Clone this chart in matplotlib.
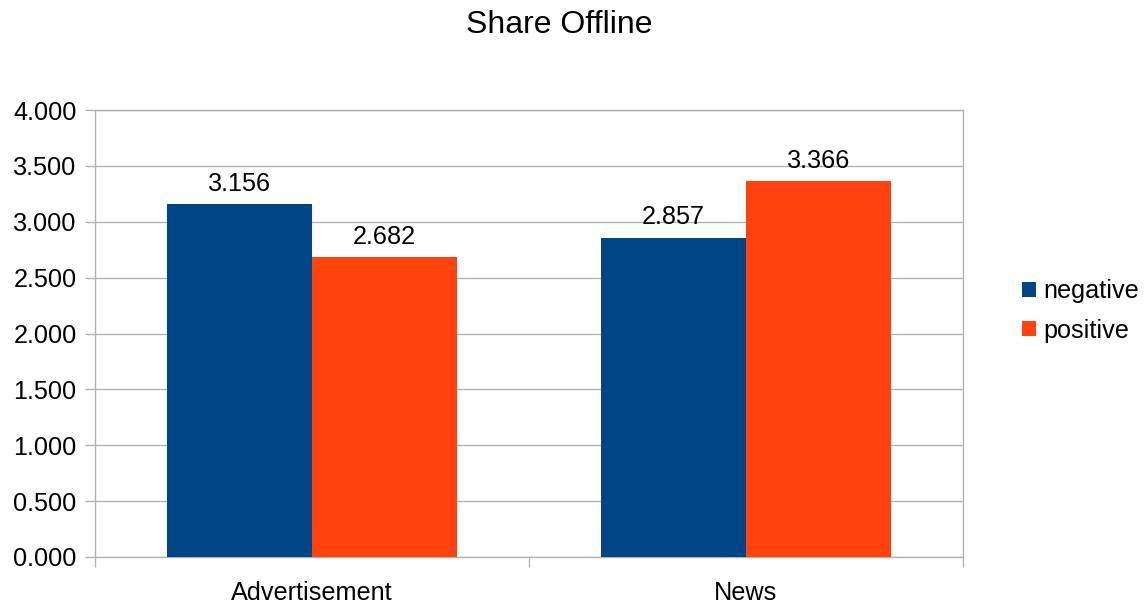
import matplotlib
matplotlib.use("Agg")
import matplotlib.pyplot as plt
from matplotlib.patches import Patch
import numpy as np

plt.rcParams['font.family'] = ['Liberation Sans', 'DejaVu Sans']

categories = ["Advertisement", "News"]
series_names = ["negative", "positive"]
negative = [3.156, 2.857]
positive = [2.682, 3.366]
yticks = [0.0, 0.5, 1.0, 1.5, 2.0, 2.5, 3.0, 3.5, 4.0]
colors = ["#004586", "#ff420e"]
title = "Share Offline"

W, H = 1145, 603
fig = plt.figure(figsize=(W / 100, H / 100), dpi=100)
ax = fig.add_axes([95 / W, 1 - 557 / H, (963 - 95) / W, (557 - 110) / H])

x = np.arange(len(categories))
bw = 0.334
grid_c = "#b3b3b3"
fs = 18.2
for i, (vals, name) in enumerate(zip([negative, positive], series_names)):
    pos = x + (i - 0.5) * bw
    ax.bar(pos, vals, width=bw, color=colors[i], label=name, zorder=3)
    for xp, v in zip(pos, vals):
        ax.annotate(f"{v:.3f}", (xp, v), xytext=(0, 6), textcoords="offset points",
                    ha="center", va="bottom", fontsize=fs, color="#000000")

ax.set_xlim(-0.5, len(categories) - 0.5)
ax.set_ylim(0, 4.0)
ax.set_yticks(yticks)
ax.set_yticklabels([f"{t:.3f}" for t in yticks])
ax.set_xticks(x)
ax.set_xticklabels(categories)
ax.set_xticks(np.arange(len(categories) + 1) - 0.5, minor=True)
ax.tick_params(axis="x", which="major", length=0, pad=17, labelsize=fs)
ax.tick_params(axis="x", which="minor", length=7.2, color=grid_c, width=1)
ax.tick_params(axis="y", which="major", length=7.2, color=grid_c, width=1, pad=6, labelsize=fs)
ax.yaxis.grid(True, color=grid_c, linewidth=1, zorder=0)
ax.set_axisbelow(True)
for s in ax.spines.values():
    s.set_color(grid_c)
    s.set_linewidth(1)

fig.text(559 / W, 1 - 25 / H, title, ha="center", va="center", fontsize=23)

handles = [Patch(facecolor=c, edgecolor="none") for c in colors]
fig.legend(handles, series_names, loc="center left", bbox_to_anchor=(1012 / W, 1 - 311 / H),
           frameon=False, fontsize=fs, handlelength=0.55, handleheight=0.55,
           handletextpad=0.3, labelspacing=0.6, borderaxespad=0)

fig.savefig("out.png", dpi=100)
